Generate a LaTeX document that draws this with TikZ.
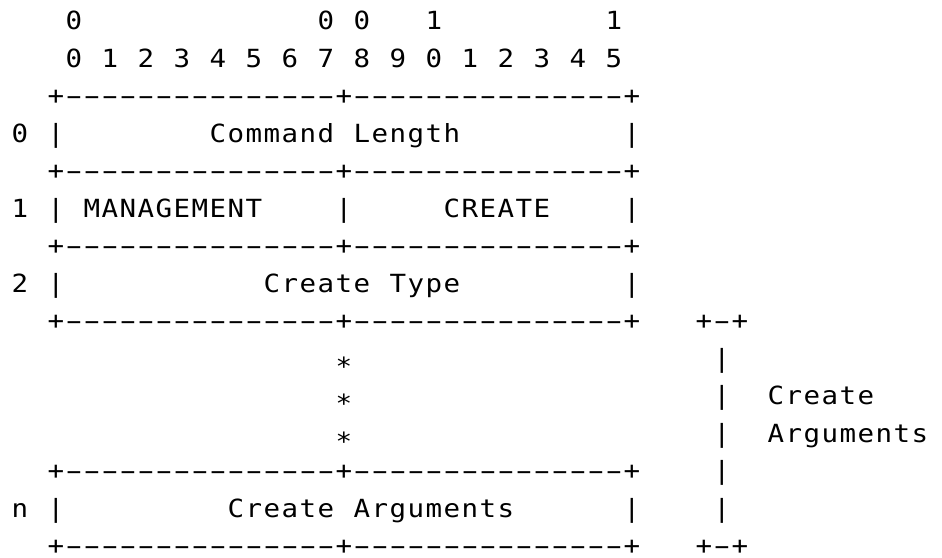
\documentclass[tikz,border=0pt]{standalone}
\usepackage{fontspec}
\usepackage{graphicx}
\newfontfamily\asciifont{DejaVu Sans Mono}[FakeStretch=1.1]
\tikzset{
  ch/.style={inner sep=0pt, outer sep=0pt, anchor=base, text=black,
             font={\fontsize{25pt}{25pt}\asciifont}}
}
\ExplSyntaxOn
\int_new:N \l_asc_col_int
\tl_new:N \l_asc_x_tl
\tl_new:N \l_asc_y_tl
\cs_new:Npn \asc_glyph:n #1
  {
    \str_case:nnF {#1}
      {
        { - } { \scalebox{1.8}[1]{-} }
        { * } { \raisebox{-8pt}{*} }
      }
      { #1 }
  }
\NewDocumentCommand \arow { m m m }
  {
    \int_set:Nn \l_asc_col_int {#2}
    \tl_set:Nx \l_asc_y_tl { \fp_eval:n { -(29.6 + 37.5 * (#1)) } }
    \str_map_inline:nn {#3}
      {
        \str_if_eq:nnF {##1} {~}
          {
            \tl_set:Nx \l_asc_x_tl { \fp_eval:n { 20 + 18 * \l_asc_col_int } }
            \node [ch, name = {r#1c\int_use:N \l_asc_col_int}, at = {(\l_asc_x_tl pt, \l_asc_y_tl pt)}] { \asc_glyph:n {##1} } ;
          }
        \int_incr:N \l_asc_col_int
      }
  }
\ExplSyntaxOff
\begin{document}
\begin{tikzpicture}
\fill[white] (0,0) rectangle (942pt,-557pt);
\useasboundingbox (0,0) rectangle (942pt,-557pt);
% header
\arow{0}{3}{0}
\arow{0}{17}{0 0}
\arow{0}{23}{1}
\arow{0}{33}{1}
\arow{1}{3}{0 1 2 3 4 5 6 7 8 9 0 1 2 3 4 5}
% word 0
\arow{2}{2}{+---------------+---------------+}
\arow{3}{0}{0 |}
\arow{3}{11}{Command Length}
\arow{3}{34}{|}
% word 1
\arow{4}{2}{+---------------+---------------+}
\arow{5}{0}{1 | MANAGEMENT}
\arow{5}{18}{|}
\arow{5}{24}{CREATE}
\arow{5}{34}{|}
% word 2
\arow{6}{2}{+---------------+---------------+}
\arow{7}{0}{2 |}
\arow{7}{14}{Create Type}
\arow{7}{34}{|}
\arow{8}{2}{+---------------+---------------+}
\arow{8}{38}{+-+}
% ellipsis
\arow{9}{18}{*}
\arow{9}{39}{|}
\arow{10}{18}{*}
\arow{10}{39}{|}
\arow{10}{42}{Create}
\arow{11}{18}{*}
\arow{11}{39}{|}
\arow{11}{42}{Arguments}
% word n
\arow{12}{2}{+---------------+---------------+}
\arow{12}{39}{|}
\arow{13}{0}{n |}
\arow{13}{12}{Create Arguments}
\arow{13}{34}{|}
\arow{13}{39}{|}
\arow{14}{2}{+---------------+---------------+}
\arow{14}{38}{+-+}
\end{tikzpicture}
\end{document}
